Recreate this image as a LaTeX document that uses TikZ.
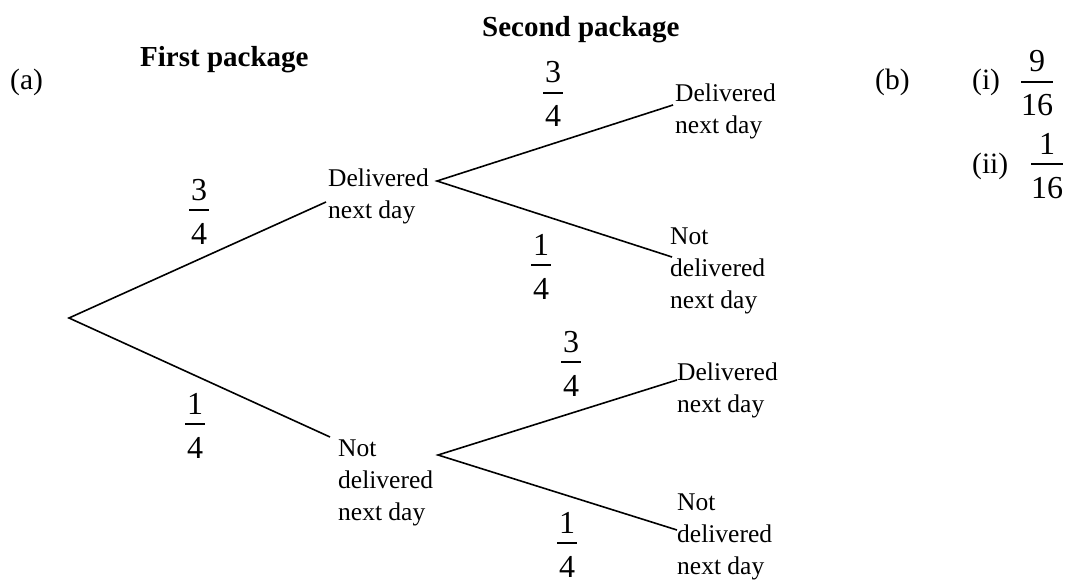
\documentclass[tikz,border=0pt]{standalone}
\usepackage{fontspec}
\setmainfont{Liberation Serif}
% probability written as a stacked fraction: name, x, y of bar, numerator, denominator, half bar width
\newcommand\probfrac[6]{%
  \node[digit] (#1n) at (#2,#3-10) {#4};
  \node[digit] (#1d) at (#2,#3+34) {#5};
  \draw[fracbar] (#2-#6,#3) -- (#2+#6,#3);}
\begin{document}
\begin{tikzpicture}[x=1pt,y=-1pt,
  branch/.style={line width=1.6pt},
  fracbar/.style={line width=1.5pt},
  outcome/.style={anchor=base west, align=left, inner sep=0pt,
    font=\fontsize{25.5}{32}\selectfont},
  heading/.style={anchor=base west, inner sep=0pt,
    font=\fontsize{29}{34}\selectfont\bfseries},
  partlabel/.style={anchor=base west, inner sep=0pt,
    font=\fontsize{29.5}{34}\selectfont},
  digit/.style={anchor=base, inner sep=0pt,
    font=\fontsize{32}{36}\selectfont}]
\useasboundingbox (0,0) rectangle (1065,583);

% headings and part labels
\node[partlabel] (parta) at (10,90) {(a)};
\node[heading] (first) at (140,67) {First package};
\node[heading] (second) at (482,37) {Second package};
\node[partlabel] (partb) at (875,90) {(b)};
\node[partlabel] (pi) at (972,90) {(i)};
\node[partlabel] (pii) at (972,173) {(ii)};

% outcomes (placed by the baseline of their last line)
\node[outcome] (d1) at (328,218) {Delivered\\next day};
\node[outcome] (n1) at (338,520) {Not\\delivered\\next day};
\node[outcome] (dd) at (675,133) {Delivered\\next day};
\node[outcome] (dn) at (670,308) {Not\\delivered\\next day};
\node[outcome] (nd) at (677,412) {Delivered\\next day};
\node[outcome] (nn) at (677,574) {Not\\delivered\\next day};

% branch points
\coordinate (root) at (69,318);
\coordinate (d1in) at (326,202);
\coordinate (n1in) at (330,437);
\coordinate (d1out) at (437,181);
\coordinate (n1out) at (438,455);
\coordinate (ddin) at (673,105);
\coordinate (dnin) at (672,257);
\coordinate (ndin) at (677,380);
\coordinate (nnin) at (677,530);

% tree
\draw[branch] (d1in) -- (root) -- (n1in);
\draw[branch] (ddin) -- (d1out) -- (dnin);
\draw[branch] (ndin) -- (n1out) -- (nnin);

% branch probabilities
\probfrac{fa}{199}{210}{3}{4}{10}
\probfrac{fb}{195}{424}{1}{4}{10}
\probfrac{fc}{553}{93}{3}{4}{10}
\probfrac{fd}{541}{265}{1}{4}{10}
\probfrac{fe}{571}{362}{3}{4}{10}
\probfrac{ff}{567}{543}{1}{4}{10}

% answers to (b)
\probfrac{ga}{1037}{82}{9}{16}{16}
\probfrac{gb}{1047}{164}{1}{16}{16}
\end{tikzpicture}
\end{document}
